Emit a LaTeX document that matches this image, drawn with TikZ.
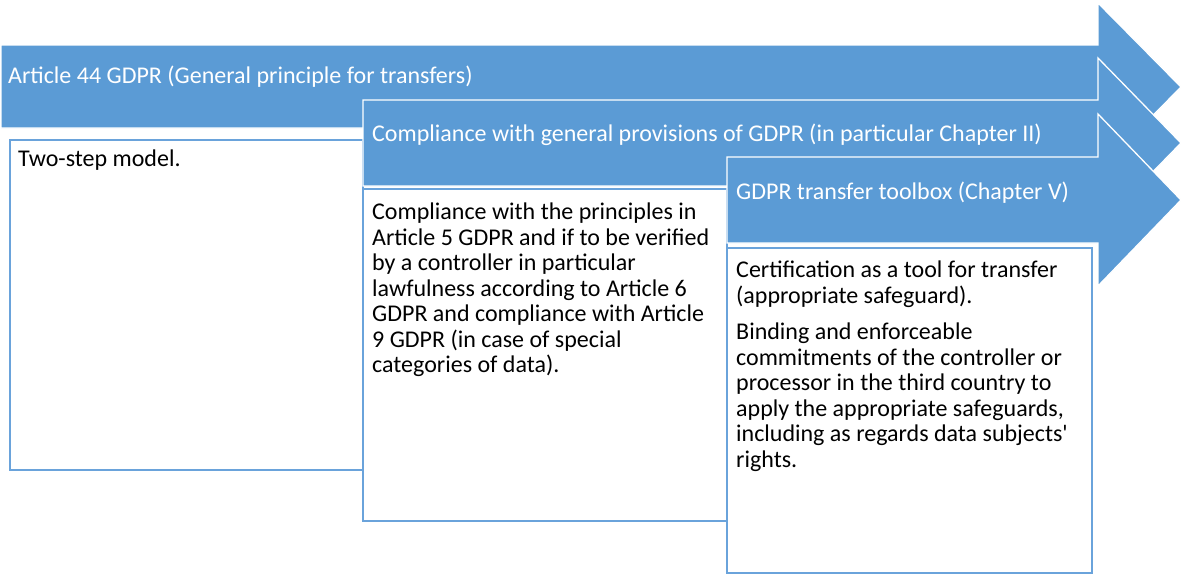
\documentclass[tikz,border=0pt]{standalone}
\usepackage{xcolor}
\usepackage{fontspec}
\setmainfont{Carlito}
\usepackage{tikz}
\usetikzlibrary{positioning}
\definecolor{bandblue}{HTML}{5B9BD5}
\definecolor{boxblue}{HTML}{6AA3DB}

\begin{document}
\begin{tikzpicture}[x=1pt, y=-1pt,
  band/.style={fill=bandblue, draw=white, line width=1.3pt, line join=miter},
  panel/.style={fill=white, draw=boxblue, line width=2.2pt},
  bandtext/.style={anchor=west, inner sep=0pt, text=white, font=\fontsize{24}{25.5}\selectfont},
  paneltext/.style={anchor=north west, inner sep=0pt, align=left, font=\fontsize{24}{25.5}\selectfont},
]
\useasboundingbox (0,0) rectangle (1181,576);
\path[band] (1,45) -- (1098,45) -- (1098,3) -- (1181,87) -- (1098,171) -- (1098,128) -- (1,128) -- cycle;
\node[bandtext] (art44) at (8,77) {Article 44 GDPR (General principle for transfers)};
\path[panel] (10,140) rectangle (363,470);
\node[paneltext] (twostep) at (18,150) {Two-step model.};
\path[band] (363,100) -- (1098,100) -- (1098,58) -- (1181,143) -- (1098,228) -- (1098,186) -- (363,186) -- cycle;
\node[bandtext] (general) at (372,135) {Compliance with general provisions of GDPR (in particular Chapter II)};
\path[panel] (363,189) rectangle (727,521);
\node[paneltext] (principles) at (372,203) {Compliance with the principles in\\Article 5 GDPR and if to be verified\\by a controller in particular\\lawfulness according to Article 6\\GDPR and compliance with Article\\9 GDPR (in case of special\\categories of data).};
\path[band] (727,157) -- (1098,157) -- (1098,114) -- (1181,200) -- (1098,286) -- (1098,243) -- (727,243) -- cycle;
\node[bandtext] (toolbox) at (736,193) {GDPR transfer toolbox (Chapter V)};
\path[panel] (727,248) rectangle (1092,573);
\node[paneltext] (certif) at (736,261) {Certification as a tool for transfer\\(appropriate safeguard).\\[11pt]Binding and enforceable\\commitments of the controller or\\processor in the third country to\\apply the appropriate safeguards,\\including as regards data subjects\textquotesingle\\rights.};
\end{tikzpicture}
\end{document}
